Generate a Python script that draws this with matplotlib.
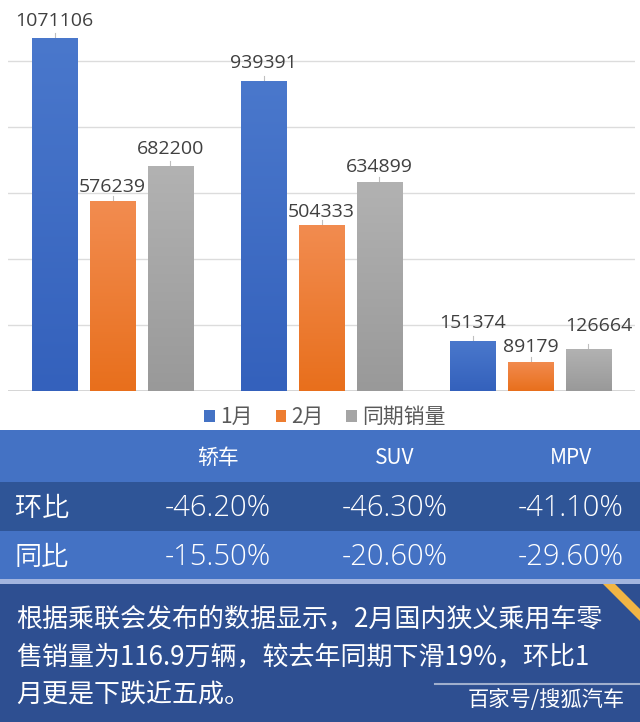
import matplotlib
matplotlib.use('Agg')
import matplotlib.pyplot as plt
import numpy as np
from matplotlib.patches import Rectangle, Polygon
from matplotlib import font_manager as fm
from matplotlib.colors import LinearSegmentedColormap

plt.rcParams['font.family'] = ['Noto Sans CJK SC', 'DejaVu Sans']

# ---------------- data ----------------
categories = ['轿车', 'SUV', 'MPV']
series_names = ['1月', '2月', '同期销量']
jan = [1071106, 939391, 151374]
feb = [576239, 504333, 89179]
last_year = [682200, 634899, 126664]
row_names = ['环比', '同比']
mom = ['-46.20%', '-46.30%', '-41.10%']
yoy = ['-15.50%', '-20.60%', '-29.60%']
note_lines = ['根据乘联会发布的数据显示，2月国内狭义乘用车零',
              '售销量为116.9万辆，较去年同期下滑19%，环比1',
              '月更是下跌近五成。']
source = '百家号/搜狐汽车'

# ---------------- fonts ----------------
def _w(f):
    w = f.weight
    if isinstance(w, str):
        w = fm.weight_dict.get(w.lower(), 400)
    return w


def find_light(families):
    for fam in families:
        cands = [f for f in fm.fontManager.ttflist
                 if f.name == fam and f.style == 'normal'
                 and str(f.stretch) in ('normal', '500')
                 and 'ondensed' not in f.fname and 'arrow' not in f.fname
                 and 'emi' not in f.fname.split('/')[-1].replace('Semibold', '').lower()[:0]]
        lights = [f for f in cands if 250 <= _w(f) <= 350]
        if lights:
            return fm.FontProperties(fname=lights[0].fname)
    return None


cjk_light = find_light(['Noto Sans CJK SC', 'Noto Sans CJK JP'])
latin_light = find_light(['Open Sans', 'Lato', 'Roboto', 'Noto Sans', 'Inter'])

# ---------------- style ----------------
colors = ['#4472C4', '#ED7D31', '#A5A5A5']
grad = [('#4A78CC', '#3461BC'), ('#F28C50', '#E86F1C'), ('#B2B2B2', '#999999')]
W, H = 640, 722
fig = plt.figure(figsize=(6.4, 7.22), dpi=100)
fig.patch.set_facecolor('white')


def fx(px):
    return px / W


def fy(py):
    return 1 - py / H


ax = fig.add_axes([fx(8), fy(391), fx(635) - fx(8), 391 / H])
ax.set_xlim(-0.5, 2.5)
ax.set_ylim(0, 1186000)
ax.set_yticks(np.arange(0, 1200001, 200000))
ax.yaxis.grid(True, color='#DCDCDC', lw=1.0)
ax.set_axisbelow(True)
ax.tick_params(length=0, labelleft=False, labelbottom=False)
for s in ax.spines.values():
    s.set_visible(False)
ax.axhline(0, color='#D0D0D0', lw=1.2, zorder=1)

x = np.arange(len(categories))
offsets = [-0.2775, 0.0, 0.2775]
width = 0.22
series = [jan, feb, last_year]
label_dy = [[12, 13, 13], [9, 8, 10], [12, 10, 18]]
label_dx = [[0, 0, 0], [0, 0, 0], [0, 0, 10]]
px_per_val = 391 / 1186000
gimg = np.linspace(1, 0, 256).reshape(-1, 1)

handles = []
for i, (vals, name) in enumerate(zip(series, series_names)):
    bars = ax.bar(x + offsets[i], vals, width, color=colors[i], label=name, zorder=2)
    handles.append(bars)
    cmap = LinearSegmentedColormap.from_list(f'g{i}', [grad[i][1], grad[i][0]])
    for j, (b, v) in enumerate(zip(bars, vals)):
        x0 = b.get_x()
        im = ax.imshow(gimg, cmap=cmap, extent=[x0, x0 + b.get_width(), 0, v],
                       aspect='auto', origin='upper', zorder=2.5, vmin=0, vmax=1)
        im.set_clip_path(b)
        xc = x0 + b.get_width() / 2
        ax.plot([xc, xc], [v, v + 5 / px_per_val], color='#BFBFBF', lw=0.8, zorder=2)
        ax.annotate(f'{v}', xy=(xc, v), xytext=(label_dx[i][j] * 0.72, label_dy[i][j] * 0.72),
                    textcoords='offset points', ha='center', va='baseline',
                    fontsize=14, color='#404040', family=['Open Sans', 'DejaVu Sans'])
ax.set_xlim(-0.5, 2.5)
ax.set_ylim(0, 1186000)

leg = ax.legend(handles=handles, loc='center', bbox_to_anchor=(fx(325), fy(417)),
                bbox_transform=fig.transFigure, ncol=3, frameon=False, fontsize=15,
                handlelength=0.5, handleheight=0.5, handletextpad=0.25, columnspacing=1.1,
                labelcolor='#595959', borderpad=0)

# ---------------- table & note (pixel overlay) ----------------
ov = fig.add_axes([0, 0, 1, 1])
ov.set_xlim(0, W)
ov.set_ylim(H, 0)
ov.axis('off')
ov.patch.set_visible(False)

ov.add_patch(Rectangle((0, 430), W, 52, color='#4472C4', lw=0))
ov.add_patch(Rectangle((0, 482), W, 49, color='#2F5597', lw=0))
ov.add_patch(Rectangle((0, 531), W, 48, color='#4472C4', lw=0))
ov.add_patch(Rectangle((0, 579), W, 5, color='#A3B5DF', lw=0))
ov.add_patch(Rectangle((0, 584), W, H - 584, color='#2E4F91', lw=0))
ov.add_patch(Polygon([(603, 584), (615, 584), (640, 609), (640, 621)], closed=True,
                     color='#F2B544', lw=0))

col_x = [218, 395, 571]
for cx, c in zip(col_x, categories):
    ov.text(cx, 458, c, ha='center', va='center', color='white', fontsize=15)

row_y = [508, 557]
for ry, rn, vals in zip(row_y, row_names, [mom, yoy]):
    if cjk_light is not None:
        ov.text(15, ry, rn, ha='left', va='center', color='white', fontproperties=cjk_light,
                fontsize=19.5)
    else:
        ov.text(15, ry, rn, ha='left', va='center', color='white', fontsize=19.5,
                fontweight='light')
    for cx, v in zip(col_x, vals):
        if latin_light is not None:
            ov.text(cx, ry, v, ha='center', va='center', color='white',
                    fontproperties=latin_light, fontsize=21)
        else:
            ov.text(cx, ry, v, ha='center', va='center', color='white', fontsize=20.5,
                    fontweight='light')

line_y = [620, 658, 695]
for ly, t in zip(line_y, note_lines):
    ov.text(16, ly, t, ha='left', va='center', color='white', fontsize=18.7)

ov.plot([435, 640], [684, 684], color='white', lw=1.5, alpha=0.55)
ov.text(625, 700, source, ha='right', va='center', color='white', fontsize=15.3)

fig.savefig('out.png', dpi=100, facecolor='white')
